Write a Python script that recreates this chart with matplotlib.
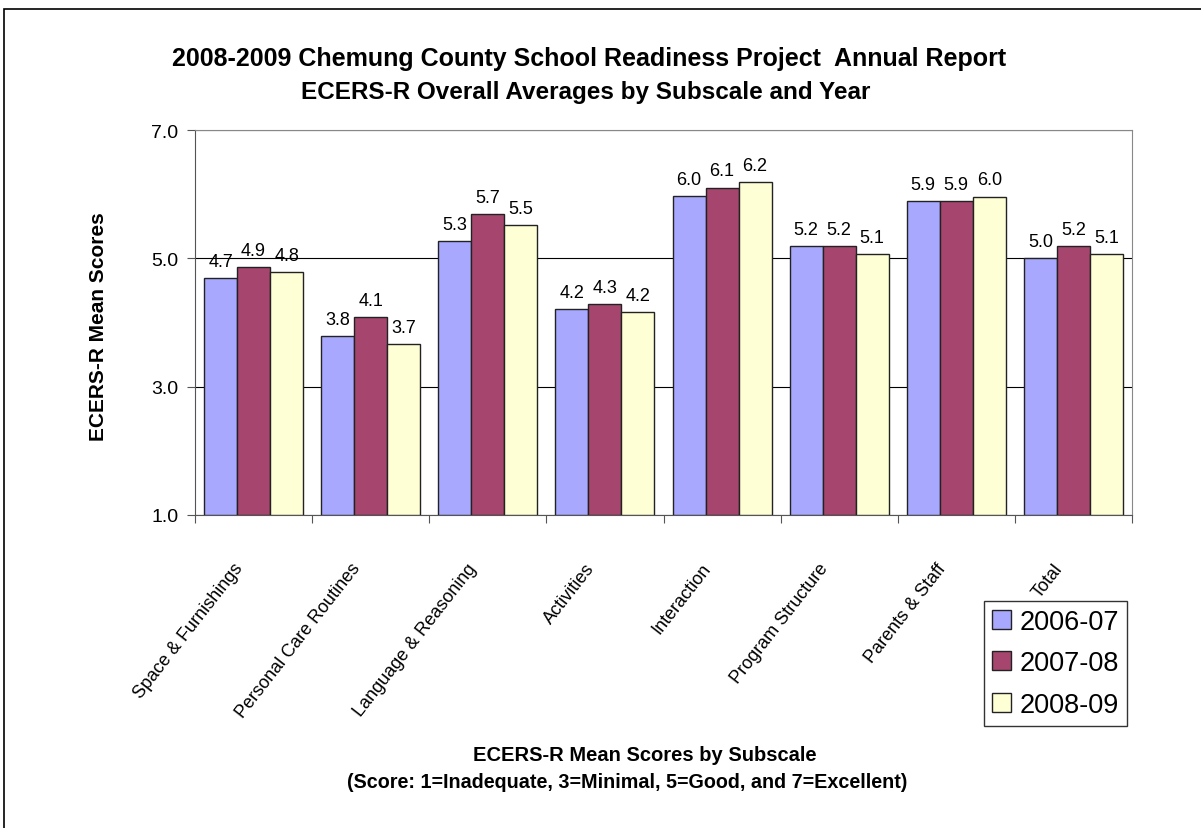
import matplotlib
matplotlib.use('Agg')
import matplotlib.pyplot as plt
import numpy as np
from matplotlib.patches import Rectangle

plt.rcParams['font.family'] = ['Liberation Sans', 'DejaVu Sans']

# data
subscales = ['Space & Furnishings', 'Personal Care Routines', 'Language & Reasoning',
             'Activities', 'Interaction', 'Program Structure', 'Parents & Staff', 'Total']
years = ['2006-07', '2007-08', '2008-09']
scores_0607 = [4.69, 3.79, 5.27, 4.21, 5.97, 5.19, 5.89, 5.00]
scores_0708 = [4.86, 4.08, 5.69, 4.29, 6.10, 5.19, 5.89, 5.19]
scores_0809 = [4.78, 3.66, 5.52, 4.16, 6.19, 5.06, 5.96, 5.06]
colors = ['#A8A8FF', '#A6466E', '#FFFFD6']

W, H = 1201, 829
fig = plt.figure(figsize=(W / 100, H / 100), dpi=100)

# outer chart frame (right/bottom fall outside the picture)
fig.patches.append(Rectangle((4 / W, -0.1), 1.2, (H - 10) / H + 0.1, transform=fig.transFigure,
                             fill=False, edgecolor='black', linewidth=1.2))

ax = fig.add_axes([195 / W, (H - 516) / H, (1132 - 195) / W, (516 - 131) / H])

x = np.arange(len(subscales))
bw = 0.282
series = [scores_0607, scores_0708, scores_0809]
for i, vals in enumerate(series):
    pos = x + (i - 1) * bw
    ax.bar(pos, np.array(vals) - 1, bottom=1, width=bw, color=colors[i],
           edgecolor='#222222', linewidth=1.0, label=years[i], zorder=3)
    for px, v in zip(pos, vals):
        ax.annotate('%.1f' % v, (px, v), xytext=(0, 6), textcoords='offset points',
                    ha='center', va='bottom', fontsize=13)

ax.set_ylim(1, 7)
ax.set_xlim(-0.5, len(subscales) - 0.5)
ax.set_yticks([1, 3, 5, 7])
ax.set_yticklabels(['1.0', '3.0', '5.0', '7.0'], fontsize=14)
ax.yaxis.grid(True, color='black', linewidth=0.8, zorder=0)
ax.tick_params(axis='y', length=6, color='#555555', pad=6)

ax.set_xticks(np.arange(len(subscales) + 1) - 0.5)
ax.set_xticklabels([])
ax.tick_params(axis='x', length=6, color='#555555')
for i, name in enumerate(subscales):
    ax.text(i - 0.12, -0.13, name, transform=ax.get_xaxis_transform(), rotation=52,
            rotation_mode='anchor', ha='right', va='center', fontsize=13)

for s in ax.spines.values():
    s.set_color('#888888')
ax.spines['left'].set_color('#555555')
ax.spines['bottom'].set_color('#555555')

fig.text(98 / W, 1 - 327 / H, 'ECERS-R Mean Scores', rotation=90,
         ha='center', va='center', fontsize=15, fontweight='bold')

fig.text(589 / W, 1 - 59 / H, '2008-2009 Chemung County School Readiness Project  Annual Report',
         ha='center', va='center', fontsize=18, fontweight='bold')
fig.text(586 / W, 1 - 93 / H, 'ECERS-R Overall Averages by Subscale and Year',
         ha='center', va='center', fontsize=17.5, fontweight='bold')
fig.text(645 / W, 1 - 756 / H, 'ECERS-R Mean Scores by Subscale',
         ha='center', va='center', fontsize=14.5, fontweight='bold')
fig.text(627 / W, 1 - 783 / H, '(Score: 1=Inadequate, 3=Minimal, 5=Good, and 7=Excellent)',
         ha='center', va='center', fontsize=14.2, fontweight='bold')

leg = ax.legend(loc='upper left', bbox_to_anchor=(984 / W, 1 - 602 / H),
                bbox_transform=fig.transFigure, fontsize=19.5, frameon=True, fancybox=False,
                edgecolor='black', handlelength=0.7, handleheight=0.7, handletextpad=0.35,
                labelspacing=0.58, borderpad=0.28, borderaxespad=0)
leg.get_frame().set_linewidth(1.0)

fig.savefig('out.png', dpi=100)
